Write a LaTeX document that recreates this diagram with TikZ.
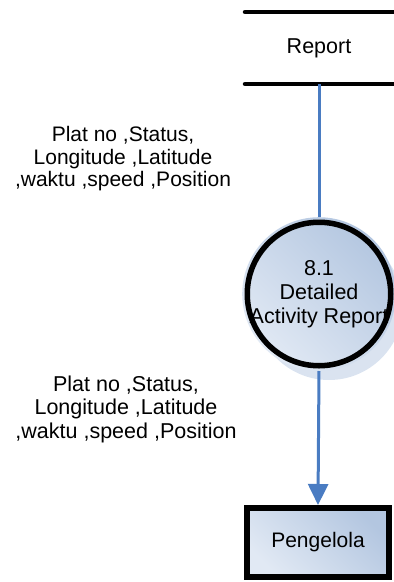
\documentclass[tikz,border=0pt]{standalone}
\usepackage{fontspec}
\setmainfont{Liberation Sans}
\usetikzlibrary{arrows.meta}

\definecolor{flowblue}{HTML}{4A7CC2}
\definecolor{filllite}{HTML}{E1E9F4}
\definecolor{filldark}{HTML}{B3C6E0}
\definecolor{shadowblue}{HTML}{DAE3F0}

\tikzset{
  lbl/.style={align=center, text=black, inner sep=0pt,
    font=\fontsize{21}{22.5}\selectfont},
  storeline/.style={line width=4.5pt, line cap=round},
  flow/.style={draw=flowblue, line width=3pt},
  flowtip/.style={-{Triangle[width=20pt,length=21pt]}},
  procfill/.style={circle, minimum size=143.5pt, inner sep=0pt,
    left color=filllite, right color=filldark, shading angle=135,
    align=center, font=\fontsize{21.5}{24}\selectfont},
  procline/.style={line width=5.5pt},
  entbox/.style={rectangle, draw=black, line width=6pt,
    minimum width=142pt, minimum height=69pt, inner sep=0pt,
    left color=filllite, right color=filldark, shading angle=135,
    font=\fontsize{21}{24}\selectfont}
}

\begin{document}
\begin{tikzpicture}[x=1pt, y=-1pt]
  \useasboundingbox (0,0) rectangle (394,582);
  \clip (0,0) rectangle (394,582);

  % data store "Report"
  \coordinate (stTL) at (245,12);
  \coordinate (stTR) at (394,12);
  \coordinate (stBL) at (245,84);
  \coordinate (stBR) at (394,84);
  \coordinate (stOut) at (319,84);
  \draw[storeline] (stTL) -- (stTR);
  \draw[storeline] (stBL) -- (stBR);
  \node[lbl, font=\fontsize{21.5}{24}\selectfont] (store) at (319,48) {Report};

  % process 8.1 with its soft shadow
  \fill[shadowblue] (329,306) circle[radius=74pt];
  \node[procfill] (proc) at (319,294) {8.1\\Detailed\\Activity Report};
  \draw[procline] (proc.center) circle[radius=71.75pt];

  % external entity
  \node[entbox] (ent) at (318,542.5) {Pengelola};

  % data flows
  \draw[flow] (stOut) -- (proc.north);
  \draw[flow, flowtip, flowblue] (proc.south) -- (ent.north);

  % flow labels
  \node[lbl] (lblA) at (123,159) {Plat no ,Status,\\Longitude ,Latitude\\,waktu ,speed ,Position};
  \node[lbl, font=\fontsize{21.5}{23.5}\selectfont] (lblB) at (126,409) {Plat no ,Status,\\Longitude ,Latitude\\,waktu ,speed ,Position};
\end{tikzpicture}
\end{document}
